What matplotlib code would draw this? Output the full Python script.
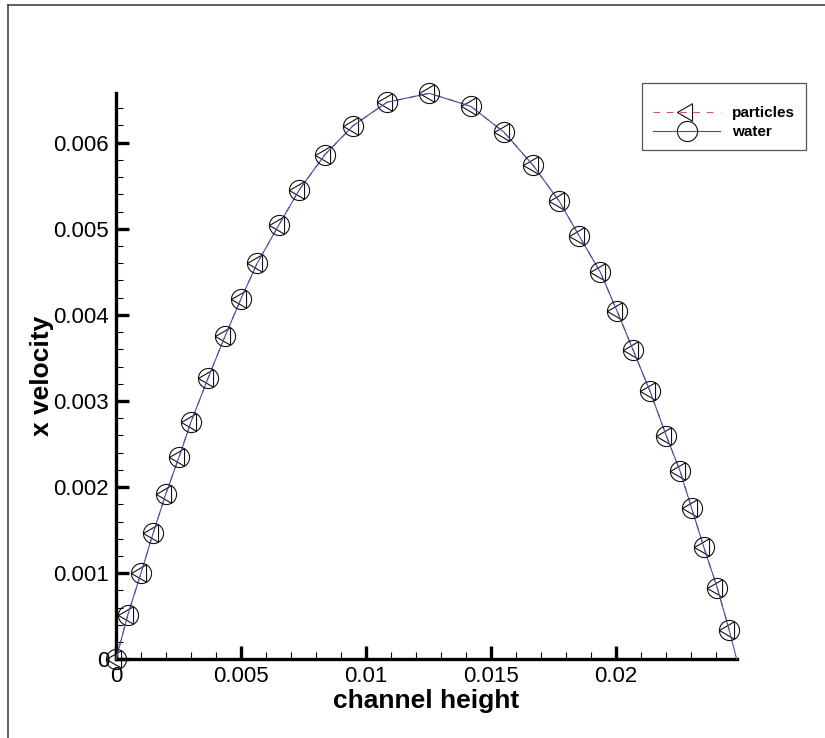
import matplotlib
matplotlib.use("Agg")
import matplotlib.pyplot as plt
from matplotlib.lines import Line2D
from matplotlib.patches import Rectangle
from matplotlib.path import Path
import numpy as np

plt.rcParams['font.family'] = ['Liberation Sans', 'DejaVu Sans']

# Sampled profile across the channel (position, x velocity)
particle_pos = [0.0, 0.00047, 0.00100, 0.00149, 0.00199, 0.00252, 0.00300, 0.00368,
                0.00436, 0.00499, 0.00565, 0.00652, 0.00733, 0.00836, 0.00949, 0.01084,
                0.01253, 0.01419, 0.01552, 0.01667, 0.01773, 0.01854, 0.01938, 0.02005,
                0.02069, 0.02136, 0.02202, 0.02256, 0.02303, 0.02352, 0.02405, 0.02453]
particle_vel = [0.0, 0.000514, 0.001001, 0.001469, 0.001918, 0.002347, 0.002756, 0.003263,
                0.003751, 0.004180, 0.004601, 0.005046, 0.005452, 0.005862, 0.006198, 0.006469,
                0.006573, 0.006422, 0.006121, 0.005742, 0.005320, 0.004911, 0.004493, 0.004041,
                0.003588, 0.003116, 0.002590, 0.002190, 0.001752, 0.001299, 0.000831, 0.000340]

water_pos = [0.0, 0.00047, 0.00100, 0.00149, 0.00199, 0.00252, 0.00300, 0.00368,
             0.00436, 0.00499, 0.00565, 0.00652, 0.00733, 0.00836, 0.00949, 0.01084,
             0.01253, 0.01419, 0.01552, 0.01667, 0.01773, 0.01854, 0.01938, 0.02005,
             0.02069, 0.02136, 0.02202, 0.02256, 0.02303, 0.02352, 0.02405, 0.02453, 0.02483]
water_vel = [0.0, 0.000514, 0.001001, 0.001469, 0.001918, 0.002347, 0.002756, 0.003263,
             0.003751, 0.004180, 0.004601, 0.005046, 0.005452, 0.005862, 0.006198, 0.006469,
             0.006573, 0.006422, 0.006121, 0.005742, 0.005320, 0.004911, 0.004493, 0.004041,
             0.003588, 0.003116, 0.002590, 0.002190, 0.001752, 0.001299, 0.000831, 0.000340, 0.0]

x_ticks = [0.0, 0.005, 0.01, 0.015, 0.02]
x_tick_labels = ['0', '0.005', '0.01', '0.015', '0.02']
y_ticks = [0.0, 0.001, 0.002, 0.003, 0.004, 0.005, 0.006]
y_tick_labels = ['0', '0.001', '0.002', '0.003', '0.004', '0.005', '0.006']

# left-pointing triangle inscribed in the circle symbol
ang = np.deg2rad([180, 60, -60, 180])
tri_left = Path(np.column_stack([np.cos(ang), np.sin(ang)]),
                [Path.MOVETO, Path.LINETO, Path.LINETO, Path.CLOSEPOLY])

fig = plt.figure(figsize=(8.25, 7.38), dpi=100)
ax = fig.add_axes([116 / 825, 1 - 659.3 / 738, (736.7 - 116) / 825, (659.3 - 93.3) / 738])

# outer page frame (top and left edges)
fig.add_artist(Line2D([8 / 825, 1.0], [1 - 5 / 738, 1 - 5 / 738], transform=fig.transFigure,
                      color='#444444', lw=1.2))
fig.add_artist(Line2D([8 / 825, 8 / 825], [0.0, 1 - 5 / 738], transform=fig.transFigure,
                      color='#444444', lw=1.2))

mk = 14.5
ax.plot(particle_pos, particle_vel, linestyle=(0, (6, 6)), color='#d0508c', lw=0.8,
        marker=tri_left, markersize=mk, markerfacecolor='none', markeredgecolor='#111111',
        markeredgewidth=0.8, clip_on=False, zorder=3, label='particles')
ax.plot(water_pos, water_vel, linestyle='-', color='#4a4aa6', lw=0.8,
        marker='o', markersize=mk, markerfacecolor='none', markeredgecolor='#111111',
        markeredgewidth=0.8, markevery=list(range(len(water_pos) - 1)),
        clip_on=False, zorder=4, label='water')

ax.set_xlim(0, 0.02483)
ax.set_ylim(0, 0.006573)

for s in ('top', 'right'):
    ax.spines[s].set_visible(False)
for s in ('left', 'bottom'):
    ax.spines[s].set_linewidth(2.4)
    ax.spines[s].set_zorder(2)

ax.set_xticks(x_ticks)
ax.set_xticklabels(x_tick_labels)
ax.set_yticks(y_ticks)
ax.set_yticklabels(y_tick_labels)
ax.set_xticks([i * 0.001 for i in range(25) if i % 5 != 0], minor=True)
ax.set_yticks([i * 0.0002 for i in range(33) if i % 5 != 0], minor=True)
ax.tick_params(which='major', direction='in', length=9.5, width=2.4, labelsize=16, pad=5)
ax.tick_params(which='minor', direction='in', length=5, width=0.8)
ax.tick_params(axis='y', which='major', pad=5)

ax.set_xlabel('channel height', fontsize=19, fontweight='bold')
ax.set_ylabel('x velocity', fontsize=19, fontweight='bold')
ax.xaxis.set_label_coords(0.5, -0.052)
ax.yaxis.set_label_coords(-0.100, 0.5)

# legend box
fig.add_artist(Rectangle((642 / 825, 1 - 150 / 738), (806 - 642) / 825, (150 - 83) / 738,
                         transform=fig.transFigure, fill=False, edgecolor='#555555', lw=0.9))
leg = ax.legend(loc='upper left', bbox_to_anchor=(653 / 825, 1 - 106.5 / 738),
                bbox_transform=fig.transFigure, frameon=False, borderpad=0, borderaxespad=0,
                handlelength=4.4, handletextpad=0.75, labelspacing=0.3,
                prop={'size': 11, 'weight': 'bold'})

fig.savefig('out.png', dpi=100)
